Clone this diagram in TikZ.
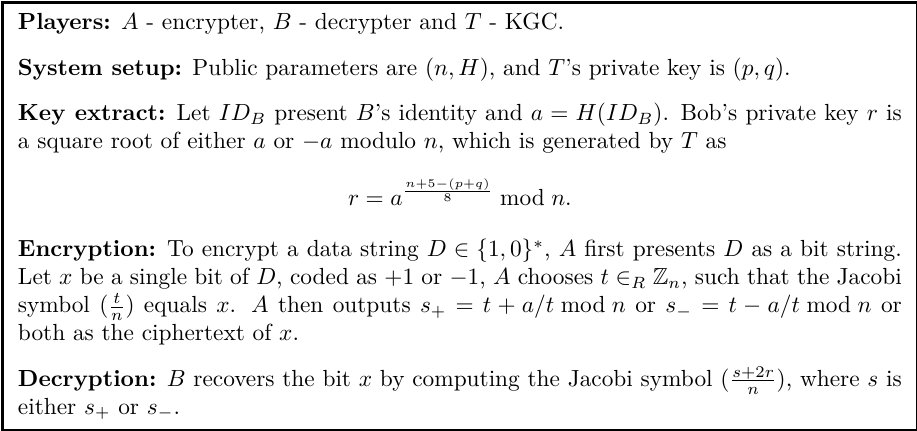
\documentclass[tikz,border=0pt]{standalone}
\usepackage{amssymb}
\usepackage{amsmath}
\usepackage{tikz}
\usetikzlibrary{positioning}

\begin{document}
\begin{tikzpicture}
  \tikzstyle{frame}=[draw,line width=1.2pt,inner xsep=6.5pt,inner ysep=4pt,
                     text width=379pt,minimum height=183.2pt,align=justify,anchor=north west]
  \useasboundingbox (0,0) rectangle (393.2pt,-184.4pt);
  \node [frame] (scheme) at (0.6pt,-0.6pt) {%
    \textbf{Players:} $A$ - encrypter, $B$ - decrypter and $T$ - KGC.\par\vspace{7.5pt}
    \textbf{System setup:} Public parameters are $(n, H)$, and $T$'s private key is $(p, q)$.\par\vspace{7.5pt}
    \textbf{Key extract:} Let $ID_B$ present $B$'s identity and $a = H(ID_B)$. Bob's private key $r$ is
    a square root of either $a$ or $-a$ modulo $n$, which is generated by $T$ as
    \[ r = a^{\frac{n+5-(p+q)}{8}} \bmod n. \]
    \textbf{Encryption:} To encrypt a data string $D \in \{1, 0\}^*$, $A$ first presents $D$ as a bit string.
    Let $x$ be a single bit of $D$, coded as $+1$ or $-1$, $A$ chooses $t \in_R \mathbb{Z}_n$, such that the Jacobi
    symbol $(\frac{t}{n})$ equals $x$. $A$ then outputs $s_+ = t + a/t \bmod n$ or $s_- = t - a/t \bmod n$ or
    both as the ciphertext of $x$.\par\vspace{7.5pt}
    \textbf{Decryption:} $B$ recovers the bit $x$ by computing the Jacobi symbol $(\frac{s+2r}{n})$, where $s$ is
    either $s_+$ or $s_-$.\par};
\end{tikzpicture}
\end{document}
